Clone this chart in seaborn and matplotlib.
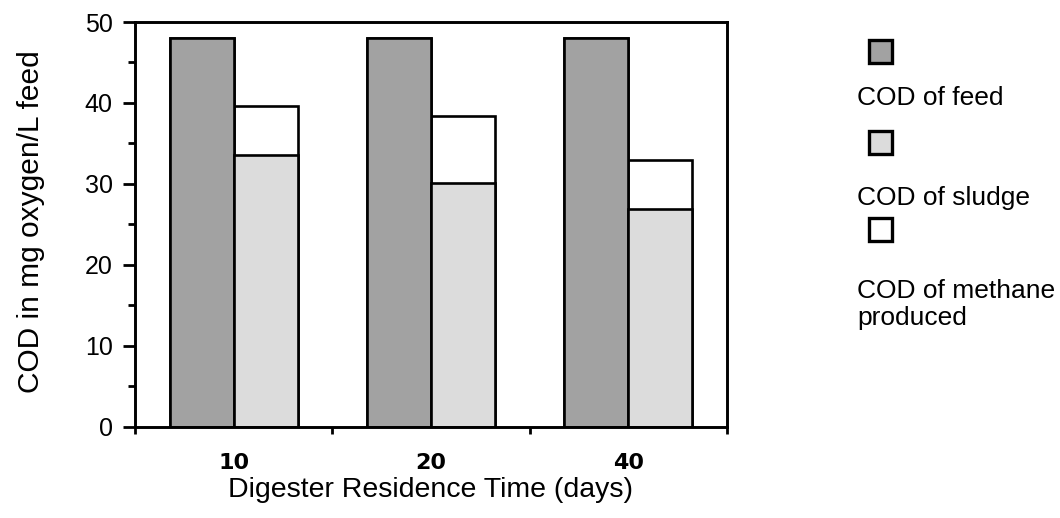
import matplotlib
matplotlib.use("Agg")
import matplotlib.pyplot as plt
import seaborn as sns
import pandas as pd
from matplotlib.patches import Rectangle

# ---- data ----
residence_days = ["10", "20", "40"]
cod_feed = [48.0, 48.0, 48.0]
cod_sludge = [33.6, 30.1, 26.9]
cod_methane = [6.0, 8.3, 6.0]
legend_labels = ["COD of feed", "COD of sludge", "COD of methane\nproduced"]
y_ticks = [0, 10, 20, 30, 40, 50]
y_minor = [5, 15, 25, 35, 45]

FEED_C = "#a2a2a2"
SLUDGE_C = "#dcdcdc"
METH_C = "#ffffff"

sns.set_theme(style="ticks", rc={
    "axes.edgecolor": "black", "xtick.color": "black", "ytick.color": "black",
    "text.color": "black", "axes.labelcolor": "black",
})
plt.rcParams['font.family'] = ['Liberation Sans', 'DejaVu Sans']

W, H = 1060, 518
fig = plt.figure(figsize=(W / 100, H / 100), dpi=100)
ax = fig.add_axes([135 / W, 1 - 426.7 / H, 592 / W, (426.7 - 22) / H])

totals = [s + m for s, m in zip(cod_sludge, cod_methane)]
df_total = pd.DataFrame({
    "days": residence_days * 2,
    "series": ["feed"] * 3 + ["rest"] * 3,
    "value": cod_feed + totals,
})
df_sludge = pd.DataFrame({
    "days": residence_days * 2,
    "series": ["feed"] * 3 + ["rest"] * 3,
    "value": cod_feed + cod_sludge,
})

common = dict(x="days", y="value", hue="series", width=0.65, edgecolor="black",
              linewidth=1.9, errorbar=None, legend=False, saturation=1, ax=ax)
sns.barplot(data=df_total, palette={"feed": FEED_C, "rest": METH_C}, **common)
sns.barplot(data=df_sludge, palette={"feed": FEED_C, "rest": SLUDGE_C}, **common)

ax.set_xlim(-0.5, 2.5)
ax.set_ylim(0, 50)
ax.set_yticks(y_ticks)
ax.set_yticks(y_minor, minor=True)
ax.set_xticks([0, 1, 2])
ax.set_xticklabels(residence_days, fontweight="bold", family=["DejaVu Sans"])
ax.set_xticks([-0.5, 0.5, 1.5, 2.5], minor=True)
ax.tick_params(axis="x", which="major", length=0, pad=19, labelsize=16)
ax.tick_params(axis="x", which="minor", length=5, width=2.0, direction="out")
ax.tick_params(axis="y", which="major", length=9, width=2.0, pad=7, labelsize=18)
ax.tick_params(axis="y", which="minor", length=5, width=2.0, direction="out")
for sp in ax.spines.values():
    sp.set_visible(True)
    sp.set_linewidth(2.1)
    sp.set_color("black")

ax.set_xlabel("Digester Residence Time (days)", fontsize=20.5)
ax.set_ylabel("COD in mg oxygen/L feed", fontsize=21.5)
ax.xaxis.set_label_coords(0.5, -0.125)
ax.yaxis.set_label_coords(-0.152, 0.506)

# ---- legend drawn at the right ----
squares = [(869, 40, FEED_C), (869, 131, SLUDGE_C), (869, 218, METH_C)]
for (x0, y0, c) in squares:
    fig.add_artist(Rectangle((x0 / W, 1 - (y0 + 23) / H), 23 / W, 23 / H,
                             transform=fig.transFigure, facecolor=c,
                             edgecolor="black", linewidth=2.4))
text_base = [105, 205, 298]
for lab, yb in zip(legend_labels, text_base):
    lines = lab.split("\n")
    for i, ln in enumerate(lines):
        fig.text(857 / W, 1 - (yb + 27 * i) / H, ln, fontsize=19,
                 va="baseline", ha="left")

fig.savefig("out.png", dpi=100)
